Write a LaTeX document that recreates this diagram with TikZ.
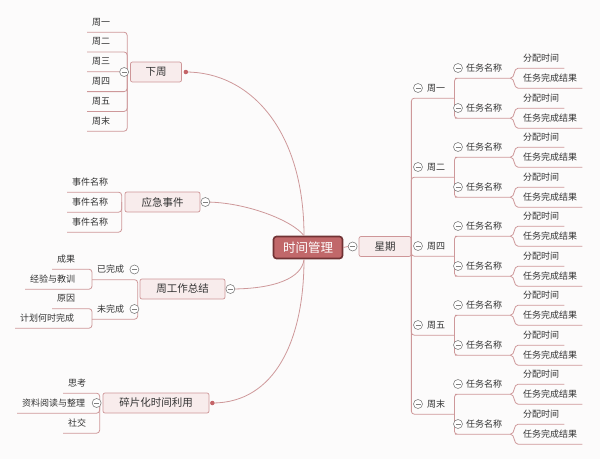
\documentclass[tikz,border=0pt]{standalone}
\usepackage{fontspec}
\newfontfamily\cjk{Noto Sans CJK SC}
\definecolor{bgc}{RGB}{252,251,251}
\definecolor{txt}{RGB}{51,51,51}
\definecolor{lnc}{RGB}{206,152,154}
\definecolor{boxfill}{RGB}{248,236,236}
\definecolor{boxline}{RGB}{206,150,152}
\definecolor{cfill}{RGB}{193,104,106}
\definecolor{cdark}{RGB}{112,50,52}
\definecolor{foldc}{RGB}{128,128,128}
\definecolor{dotc}{RGB}{196,100,104}
\tikzset{
  leaf/.style={font=\cjk\fontsize{9}{10}\selectfont, text=txt, inner xsep=5pt, inner ysep=0pt, minimum height=20pt, anchor=west},
  topic/.style={draw=boxline, fill=boxfill, rounded corners=2pt, line width=0.7pt, font=\cjk\fontsize{10.5}{12}\selectfont, text=txt, minimum height=20pt, inner sep=0pt},
  central/.style={draw=cdark, fill=cfill, rounded corners=3pt, line width=1.6pt, font=\cjk\fontsize{12.5}{14}\selectfont, text=white, minimum width=69pt, minimum height=22pt, inner sep=0pt},
  conn/.style={draw=lnc, line width=0.8pt},
  fold/.style={circle, draw=foldc, fill=white, line width=0.6pt, minimum size=9pt, inner sep=0pt,
    path picture={\draw[foldc, line width=0.6pt] ([xshift=2pt]path picture bounding box.west) -- ([xshift=-2pt]path picture bounding box.east);}},
  dotm/.style={circle, fill=dotc, minimum size=4.5pt, inner sep=0pt},
}
\begin{document}
\begin{tikzpicture}[x=1pt,y=-1pt]
\fill[bgc] (0,0) rectangle (600,459);
\useasboundingbox (0,0) rectangle (600,459);

% main topics
\node[central] (c) at (308,247.5) {时间管理};
\node[topic, minimum width=51pt] (xz) at (156,72) {下周};
\node[topic, minimum width=75pt] (yj) at (162.5,202) {应急事件};
\node[topic, minimum width=85pt] (zg) at (182.5,289) {周工作总结};
\node[topic, minimum width=106pt] (sp) at (156,403) {碎片化时间利用};
\node[topic, minimum width=52pt] (xq) at (385,246.5) {星期};

\coordinate (xzj) at ([xshift=-3pt]xz.west);
\coordinate (yjj) at ([xshift=-3pt]yj.west);
\coordinate (zgj) at ([xshift=-2pt]zg.west);
\coordinate (spj) at ([xshift=-3pt]sp.west);

% central curves
\coordinate (xzd) at ([xshift=4pt]xz.east);
\coordinate (spd) at ([xshift=3pt]sp.east);
\coordinate (yjf) at ([xshift=5pt]yj.east);
\coordinate (zgf) at ([xshift=5pt]zg.east);
\draw[conn] (xzd) .. controls (250,72) and (304,130) .. ([xshift=-4pt]c.north);
\draw[conn] (yjf) .. controls (245,202) and (292,220) .. ([xshift=-4pt]c.north);
\draw[conn] (zgf) .. controls (275,289) and (302,278) .. ([xshift=-4pt]c.south);
\draw[conn] (spd) .. controls (275,403) and (304,340) .. ([xshift=-4pt]c.south);
\node[fold] (xqf) at ([xshift=-6pt]xq.west) {};
\draw[conn] (c.east) -- (xqf.west);

% 下周 children
\foreach \lab [count=\i from 0] in {周一,周二,周三,周四,周五,周末}{
  \node[leaf] (xzc\i) at (87,{22+19.8*\i}) {\lab};
  \draw[conn, rounded corners=3pt] (xzc\i.south west) -| (xzj);
}
\node[fold] at ([xshift=-6pt]xz.west) {};
\node[dotm] at (xzd) {};

% 应急事件 children
\foreach \i in {0,1,2}{
  \node[leaf] (yjc\i) at (67,{182+20*\i}) {事件名称};
  \draw[conn, rounded corners=3pt] (yjc\i.south west) -| (yjj);
}
\node[fold] at (yjf) {};

% 周工作总结 children
\node[leaf] (ywc) at (92,269.5) {已完成};
\node[leaf] (wwc) at (92,309) {未完成};
\draw[conn, rounded corners=3pt] (ywc.south west) -| (zgj);
\draw[conn, rounded corners=3pt] (wwc.south west) -| (zgj);
\node[leaf] (cg) at (52,259) {成果};
\node[leaf] (jy) at (25,279) {经验与教训};
\node[leaf] (yy) at (52,298.5) {原因};
\node[leaf] (jh) at (15,318) {计划何时完成};
\draw[conn, rounded corners=3pt] (cg.south west) -| (ywc.south west);
\draw[conn, rounded corners=3pt] (jy.south west) -| (ywc.south west);
\draw[conn, rounded corners=3pt] (yy.south west) -| (wwc.south west);
\draw[conn, rounded corners=3pt] (jh.south west) -| (wwc.south west);
\node[fold] at ([xshift=5pt]ywc.east) {};
\node[fold] at ([xshift=5pt]wwc.east) {};
\node[fold] at (zgf) {};

% 碎片化时间利用 children
\node[leaf] (sk) at (63,383) {思考};
\node[leaf] (zl) at (17,403) {资料阅读与整理};
\node[leaf] (sj) at (63,423) {社交};
\foreach \n in {sk,zl,sj}{
  \draw[conn, rounded corners=3pt] (\n.south west) -| (spj);
}
\node[fold] at ([xshift=-6pt]sp.west) {};
\node[dotm] at (spd) {};

% 星期 tree
\foreach \lab [count=\i from 0] in {周一,周二,周四,周五,周末}{
  \pgfmathsetmacro{\yd}{88+79*\i}
  \node[leaf, inner xsep=9pt] (d\i) at (418,\yd) {\lab};
  \draw[conn, rounded corners=3pt] (xq.east) |- (d\i.south west) -- (d\i.south east);
  \foreach \k/\off in {a/-20,b/20}{
    \pgfmathsetmacro{\yt}{\yd+\off}
    \node[leaf, inner xsep=8pt] (t\i\k) at (458,\yt) {任务名称};
    \node[leaf] (p\i\k) at (518,{\yt-10}) {分配时间};
    \node[leaf] (r\i\k) at (518,{\yt+10}) {任务完成结果};
    \draw[conn, rounded corners=3pt] (d\i.south east) |- (t\i\k.south west) -- (t\i\k.south east);
    \draw[conn] (t\i\k.south east) to[out=0,in=180] (p\i\k.south west) -- (p\i\k.south east);
    \draw[conn] (t\i\k.south east) to[out=0,in=180] (r\i\k.south west) -- (r\i\k.south east);
    \node[fold] at (t\i\k.west) {};
  }
  \node[fold] at (d\i.west) {};
}
\end{tikzpicture}
\end{document}
